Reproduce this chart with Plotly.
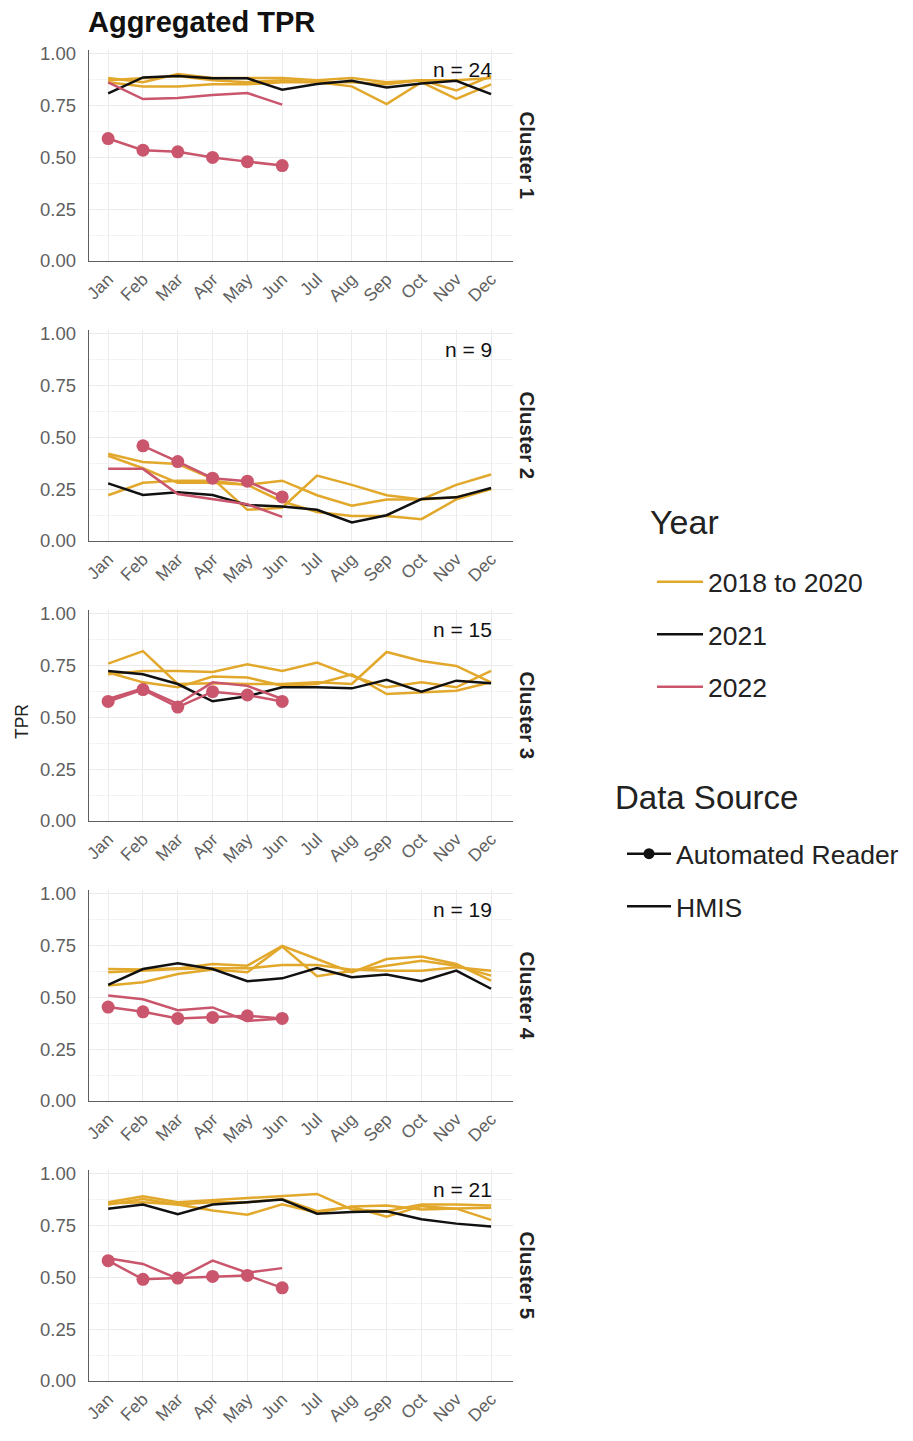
import plotly.graph_objects as go

MONTHS = ["Jan", "Feb", "Mar", "Apr", "May", "Jun", "Jul", "Aug", "Sep", "Oct", "Nov", "Dec"]
CLUSTERS = ["Cluster 1", "Cluster 2", "Cluster 3", "Cluster 4", "Cluster 5"]
N_LABELS = ["n = 24", "n = 9", "n = 15", "n = 19", "n = 21"]
Y_TICKS = [0, 0.25, 0.5, 0.75, 1.0]
Y_TICKTEXT = ["0.00", "0.25", "0.50", "0.75", "1.00"]

# Cluster 1
C1_2018 = [0.88, 0.86, 0.90, 0.88, 0.88, 0.88, 0.87, 0.88, 0.86, 0.87, 0.87, 0.88]
C1_2019 = [0.86, 0.84, 0.84, 0.85, 0.85, 0.86, 0.86, 0.84, 0.755, 0.86, 0.78, 0.85]
C1_2020 = [0.87, 0.88, 0.89, 0.87, 0.86, 0.87, 0.86, 0.86, 0.85, 0.87, 0.82, 0.89]
C1_2021 = [0.806, 0.883, 0.890, 0.879, 0.879, 0.824, 0.851, 0.867, 0.835, 0.854, 0.867, 0.803]
C1_2022_HMIS = [0.859, 0.779, 0.784, 0.798, 0.808, 0.752]
C1_2022_AR = [0.589, 0.533, 0.525, 0.498, 0.478, 0.459]

# Cluster 2
C2_2018 = [0.42, 0.38, 0.37, 0.30, 0.15, 0.16, 0.315, 0.27, 0.22, 0.20, 0.27, 0.32]
C2_2019 = [0.41, 0.35, 0.28, 0.28, 0.27, 0.29, 0.22, 0.17, 0.20, 0.20, 0.21, 0.25]
C2_2020 = [0.22, 0.28, 0.29, 0.29, 0.27, 0.19, 0.14, 0.12, 0.12, 0.105, 0.20, 0.25]
C2_2021 = [0.277, 0.221, 0.234, 0.221, 0.173, 0.166, 0.15, 0.089, 0.124, 0.202, 0.21, 0.255]
C2_2022_HMIS = [0.347, 0.347, 0.226, 0.202, 0.177, 0.116]
C2_2022_AR = [None, 0.458, 0.382, 0.302, 0.288, 0.212]

# Cluster 3
C3_2018 = [0.757, 0.817, 0.659, 0.663, 0.659, 0.659, 0.667, 0.659, 0.813, 0.77, 0.746, 0.667]
C3_2019 = [0.706, 0.722, 0.722, 0.717, 0.754, 0.722, 0.762, 0.698, 0.643, 0.667, 0.643, 0.722]
C3_2020 = [0.714, 0.667, 0.643, 0.695, 0.69, 0.651, 0.659, 0.706, 0.611, 0.619, 0.627, 0.667]
C3_2021 = [0.722, 0.706, 0.659, 0.576, 0.60, 0.643, 0.643, 0.638, 0.679, 0.622, 0.675, 0.663]
C3_2022_HMIS = [0.587, 0.638, 0.563, 0.667, 0.65, 0.587]
C3_2022_AR = [0.575, 0.632, 0.548, 0.622, 0.606, 0.575]

# Cluster 4
C4_2018 = [0.635, 0.632, 0.638, 0.659, 0.651, 0.746, 0.683, 0.619, 0.683, 0.695, 0.659, 0.579]
C4_2019 = [0.619, 0.627, 0.635, 0.638, 0.638, 0.654, 0.654, 0.632, 0.627, 0.627, 0.643, 0.627]
C4_2020 = [0.556, 0.571, 0.611, 0.632, 0.619, 0.743, 0.60, 0.627, 0.651, 0.675, 0.651, 0.603]
C4_2021 = [0.559, 0.635, 0.662, 0.635, 0.576, 0.59, 0.64, 0.595, 0.608, 0.576, 0.627, 0.54]
C4_2022_HMIS = [0.508, 0.489, 0.437, 0.45, 0.385, 0.397]
C4_2022_AR = [0.452, 0.429, 0.397, 0.402, 0.41, 0.397]

# Cluster 5
C5_2018 = [0.86, 0.889, 0.86, 0.87, 0.881, 0.889, 0.90, 0.825, 0.817, 0.849, 0.849, 0.844]
C5_2019 = [0.849, 0.876, 0.849, 0.86, 0.86, 0.876, 0.817, 0.838, 0.79, 0.841, 0.829, 0.775]
C5_2020 = [0.854, 0.86, 0.849, 0.82, 0.80, 0.85, 0.81, 0.84, 0.844, 0.825, 0.83, 0.833]
C5_2021 = [0.829, 0.849, 0.802, 0.849, 0.86, 0.873, 0.805, 0.813, 0.817, 0.778, 0.757, 0.743]
C5_2022_HMIS = [0.59, 0.563, 0.492, 0.579, 0.521, 0.543]
C5_2022_AR = [0.579, 0.489, 0.495, 0.503, 0.508, 0.448]

GOLD = "#E2A82C"
BLACK = "#111111"
RED = "#C9566C"
FONT = "Liberation Sans, Arial, sans-serif"

panels = [
    (C1_2018, C1_2019, C1_2020, C1_2021, C1_2022_HMIS, C1_2022_AR),
    (C2_2018, C2_2019, C2_2020, C2_2021, C2_2022_HMIS, C2_2022_AR),
    (C3_2018, C3_2019, C3_2020, C3_2021, C3_2022_HMIS, C3_2022_AR),
    (C4_2018, C4_2019, C4_2020, C4_2021, C4_2022_HMIS, C4_2022_AR),
    (C5_2018, C5_2019, C5_2020, C5_2021, C5_2022_HMIS, C5_2022_AR),
]

W, H = 913, 1441
ML, MR, MT, MB = 89, 400, 10, 10
PW = W - ML - MR
PH = H - MT - MB


def py(pix):
    return (H - MB - pix) / PH


def px(pix):
    return (pix - ML) / PW


fig = go.Figure()
layout = dict(
    width=W, height=H,
    margin=dict(l=ML, r=MR, t=MT, b=MB, autoexpand=False),
    plot_bgcolor="white", paper_bgcolor="white",
    font=dict(family=FONT, color="#222"),
    showlegend=True,
)
annotations = []

for k, (g1, g2, g3, y21, hm, ar) in enumerate(panels):
    n = k + 1
    xa = "x" if n == 1 else f"x{n}"
    ya = "y" if n == 1 else f"y{n}"
    for g in (g1, g2, g3):
        fig.add_trace(go.Scatter(x=MONTHS[:len(g)], y=g, mode="lines", xaxis=xa, yaxis=ya,
                                 line=dict(color=GOLD, width=2.5), showlegend=False, hoverinfo="skip"))
    fig.add_trace(go.Scatter(x=MONTHS[:len(y21)], y=y21, mode="lines", xaxis=xa, yaxis=ya,
                             line=dict(color=BLACK, width=2.5), showlegend=False, hoverinfo="skip"))
    fig.add_trace(go.Scatter(x=MONTHS[:len(hm)], y=hm, mode="lines", xaxis=xa, yaxis=ya,
                             line=dict(color=RED, width=2.5), showlegend=False, hoverinfo="skip"))
    fig.add_trace(go.Scatter(x=MONTHS[:len(ar)], y=ar, mode="lines+markers", xaxis=xa, yaxis=ya,
                             line=dict(color=RED, width=2.5), marker=dict(color=RED, size=13),
                             showlegend=False, hoverinfo="skip", connectgaps=False))

    top_pix = 50 + 280 * k
    bot_pix = 261 + 280 * k
    layout["xaxis" if n == 1 else f"xaxis{n}"] = dict(
        domain=[0, 1], anchor=ya, type="category", categoryorder="array", categoryarray=MONTHS,
        range=[-0.55, 11.63], showgrid=True, gridcolor="#EBEBEB", gridwidth=1,
        tickangle=-45, tickfont=dict(size=17.5, color="#5f5f5f", family=FONT),
        showline=True, linecolor="#5f5f5f", linewidth=1.4, ticks="", zeroline=False,
        automargin=False,
    )
    layout["yaxis" if n == 1 else f"yaxis{n}"] = dict(
        domain=[py(bot_pix), py(top_pix)], anchor=xa, range=[0, 1.015],
        tickvals=Y_TICKS, ticktext=Y_TICKTEXT, showgrid=True, gridcolor="#EBEBEB", gridwidth=1,
        minor=dict(showgrid=True, gridcolor="#F3F3F3", gridwidth=0.8, tickvals=[0.125, 0.375, 0.625, 0.875]),
        tickfont=dict(size=18.5, color="#5f5f5f", family=FONT),
        showline=True, linecolor="#5f5f5f", linewidth=1.4, ticks="", zeroline=False,
        ticklabelstandoff=8, automargin=False,
    )
    annotations.append(dict(x=11, y=0.92, xref=xa, yref=ya, text=N_LABELS[k], showarrow=False,
                            xanchor="right", yanchor="middle", xshift=3,
                            font=dict(size=21, color="#111", family=FONT)))
    annotations.append(dict(x=px(527), y=py((top_pix + bot_pix) / 2), xref="paper", yref="paper",
                            text=f"<b>{CLUSTERS[k]}</b>", showarrow=False, textangle=90,
                            xanchor="center", yanchor="middle",
                            font=dict(size=20.5, color="#222", family=FONT)))

annotations.append(dict(x=px(22), y=py(722), xref="paper", yref="paper", text="TPR", showarrow=False,
                        textangle=-90, xanchor="center", yanchor="middle",
                        font=dict(size=17.5, color="#222", family=FONT)))
annotations.append(dict(x=px(86), y=py(22), xref="paper", yref="paper", text="<b>Aggregated TPR</b>",
                        showarrow=False, xanchor="left", yanchor="middle",
                        font=dict(size=29, color="#111", family=FONT)))
# Legend titles
annotations.append(dict(x=px(648), y=py(522), xref="paper", yref="paper", text="Year",
                        showarrow=False, xanchor="left", yanchor="middle",
                        font=dict(size=34, color="#222", family=FONT)))
annotations.append(dict(x=px(613), y=py(797), xref="paper", yref="paper", text="Data Source",
                        showarrow=False, xanchor="left", yanchor="middle",
                        font=dict(size=33, color="#222", family=FONT)))

# Legend entries
YEAR_NAMES = ["2018 to 2020", "2021", "2022"]
YEAR_COLORS = [GOLD, BLACK, RED]
for name, col in zip(YEAR_NAMES, YEAR_COLORS):
    fig.add_trace(go.Scatter(x=[None], y=[None], mode="lines", name=name, legend="legend",
                             legendgroup=name, line=dict(color=col, width=2.5)))
fig.add_trace(go.Scatter(x=[None], y=[None], mode="lines+markers", name="Automated Reader",
                         legend="legend2", legendgroup="ar",
                         line=dict(color=BLACK, width=2.5), marker=dict(color=BLACK, size=11)))
fig.add_trace(go.Scatter(x=[None], y=[None], mode="lines", name="HMIS", legend="legend2",
                         legendgroup="hmis", line=dict(color=BLACK, width=2.5)))

layout["legend"] = dict(x=px(652), y=py(558), xanchor="left", yanchor="top",
                        font=dict(size=26.5, family=FONT, color="#222"), tracegroupgap=15,
                        itemwidth=46, bgcolor="rgba(0,0,0,0)", traceorder="grouped")
layout["legend2"] = dict(x=px(622), y=py(830), xanchor="left", yanchor="top",
                         font=dict(size=26.5, family=FONT, color="#222"), tracegroupgap=15,
                         itemwidth=44, bgcolor="rgba(0,0,0,0)", traceorder="grouped")
layout["annotations"] = annotations
fig.update_layout(**layout)

POST = ("document.documentElement.style.margin='0';document.body.style.margin='0';"
        "document.documentElement.style.overflow='hidden';document.body.style.overflow='hidden';")
fig.write_html("out.html", post_script=POST, config={"displayModeBar": False})
